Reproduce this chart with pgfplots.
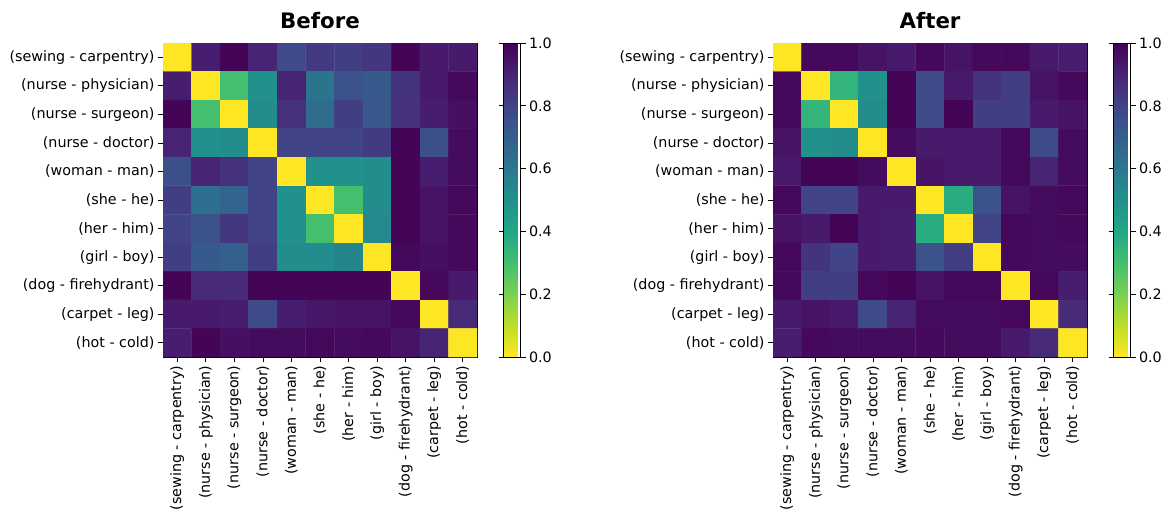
\documentclass[border=0pt]{standalone}
\usepackage{pgfplots}
\pgfplotsset{compat=1.18}
\usepackage{fontspec}
\setmainfont{DejaVu Sans}

\pgfplotsset{
  colormap={viridisr}{rgb255=(253,231,37) rgb255=(189,223,38) rgb255=(122,209,81) rgb255=(68,191,112) rgb255=(34,168,132) rgb255=(33,145,140) rgb255=(42,120,142) rgb255=(53,95,141) rgb255=(65,68,135) rgb255=(72,36,117) rgb255=(68,1,84)},
  hm/.style={
    scale only axis, width=314pt, height=314pt,
    xmin=-0.5, xmax=10.5, ymin=-0.5, ymax=10.5,
    y dir=reverse,
    enlargelimits=false,
    colormap name=viridisr,
    point meta min=0, point meta max=1,
    xtick={0,...,10}, ytick={0,...,10},
    xticklabels={(sewing - carpentry),(nurse - physician),(nurse - surgeon),(nurse - doctor),(woman - man),(she - he),(her - him),(girl - boy),(dog - firehydrant),(carpet - leg),(hot - cold)},
    yticklabels={(sewing - carpentry),(nurse - physician),(nurse - surgeon),(nurse - doctor),(woman - man),(she - he),(her - him),(girl - boy),(dog - firehydrant),(carpet - leg),(hot - cold)},
    xticklabel style={rotate=90, anchor=east, font=\fontsize{14.3}{15}\selectfont},
    yticklabel style={font=\fontsize{14.3}{15}\selectfont},
    tick align=outside, tick style={black, line width=0.7pt}, major tick length=5pt,
    xtick pos=left, ytick pos=left,
    axis line style={line width=0.8pt},
    title style={font=\bfseries\fontsize{21.3}{25}\selectfont, yshift=5pt},
    colorbar,
    colorbar style={
      at={(parent axis.north east)}, anchor=north west, xshift=18pt,
      width=17pt,
      ytick={0,0.2,...,1.0},
      yticklabel style={font=\fontsize{14.3}{15}\selectfont, /pgf/number format/.cd, fixed, fixed zerofill, precision=1, assume math mode=true},
      tick align=outside, major tick length=5pt, tick style={black, line width=0.7pt},
      axis line style={line width=0.6pt},
    },
  },
}

\begin{document}
\begin{tikzpicture}
\useasboundingbox (0,0) rectangle (1164pt,517pt);

\pgfplotstableread[row sep=\\]{
x y c\\
0 0 0\\ 1 0 .92\\ 2 0 .99\\ 3 0 .90\\ 4 0 .78\\ 5 0 .83\\ 6 0 .82\\ 7 0 .84\\ 8 0 .99\\ 9 0 .93\\ 10 0 .93\\
0 1 .92\\ 1 1 0\\ 2 1 .30\\ 3 1 .50\\ 4 1 .90\\ 5 1 .62\\ 6 1 .75\\ 7 1 .72\\ 8 1 .85\\ 9 1 .93\\ 10 1 .98\\
0 2 .99\\ 1 2 .30\\ 2 2 0\\ 3 2 .52\\ 4 2 .86\\ 5 2 .65\\ 6 2 .82\\ 7 2 .73\\ 8 2 .86\\ 9 2 .92\\ 10 2 .96\\
0 3 .90\\ 1 3 .50\\ 2 3 .52\\ 3 3 0\\ 4 3 .80\\ 5 3 .80\\ 6 3 .80\\ 7 3 .83\\ 8 3 .99\\ 9 3 .76\\ 10 3 .97\\
0 4 .76\\ 1 4 .90\\ 2 4 .86\\ 3 4 .80\\ 4 4 0\\ 5 4 .50\\ 6 4 .50\\ 7 4 .52\\ 8 4 .99\\ 9 4 .92\\ 10 4 .97\\
0 5 .82\\ 1 5 .64\\ 2 5 .68\\ 3 5 .80\\ 4 5 .50\\ 5 5 0\\ 6 5 .30\\ 7 5 .52\\ 8 5 .99\\ 9 5 .95\\ 10 5 .98\\
0 6 .80\\ 1 6 .75\\ 2 6 .84\\ 3 6 .80\\ 4 6 .50\\ 5 6 .30\\ 6 6 0\\ 7 6 .53\\ 8 6 .99\\ 9 6 .95\\ 10 6 .98\\
0 7 .82\\ 1 7 .72\\ 2 7 .70\\ 3 7 .82\\ 4 7 .52\\ 5 7 .52\\ 6 7 .55\\ 7 7 0\\ 8 7 .98\\ 9 7 .96\\ 10 7 .98\\
0 8 .99\\ 1 8 .88\\ 2 8 .88\\ 3 8 .99\\ 4 8 .99\\ 5 8 .99\\ 6 8 .99\\ 7 8 .99\\ 8 8 0\\ 9 8 .98\\ 10 8 .93\\
0 9 .93\\ 1 9 .93\\ 2 9 .92\\ 3 9 .78\\ 4 9 .92\\ 5 9 .94\\ 6 9 .95\\ 7 9 .95\\ 8 9 .98\\ 9 9 0\\ 10 9 .88\\
0 10 .92\\ 1 10 .99\\ 2 10 .96\\ 3 10 .97\\ 4 10 .97\\ 5 10 .98\\ 6 10 .97\\ 7 10 .98\\ 8 10 .95\\ 9 10 .90\\ 10 10 0\\
}\before

\pgfplotstableread[row sep=\\]{
x y c\\
0 0 0\\ 1 0 .98\\ 2 0 .98\\ 3 0 .95\\ 4 0 .93\\ 5 0 .98\\ 6 0 .95\\ 7 0 .98\\ 8 0 .98\\ 9 0 .93\\ 10 0 .92\\
0 1 .98\\ 1 1 0\\ 2 1 .35\\ 3 1 .50\\ 4 1 .99\\ 5 1 .78\\ 6 1 .93\\ 7 1 .85\\ 8 1 .82\\ 9 1 .95\\ 10 1 .98\\
0 2 .98\\ 1 2 .35\\ 2 2 0\\ 3 2 .52\\ 4 2 .99\\ 5 2 .78\\ 6 2 .99\\ 7 2 .82\\ 8 2 .82\\ 9 2 .93\\ 10 2 .95\\
0 3 .95\\ 1 3 .50\\ 2 3 .52\\ 3 3 0\\ 4 3 .97\\ 5 3 .93\\ 6 3 .93\\ 7 3 .93\\ 8 3 .98\\ 9 3 .78\\ 10 3 .97\\
0 4 .93\\ 1 4 .99\\ 2 4 .99\\ 3 4 .97\\ 4 4 0\\ 5 4 .95\\ 6 4 .93\\ 7 4 .93\\ 8 4 .98\\ 9 4 .90\\ 10 4 .97\\
0 5 .98\\ 1 5 .80\\ 2 5 .80\\ 3 5 .93\\ 4 5 .93\\ 5 5 0\\ 6 5 .38\\ 7 5 .75\\ 8 5 .95\\ 9 5 .97\\ 10 5 .98\\
0 6 .95\\ 1 6 .93\\ 2 6 .99\\ 3 6 .93\\ 4 6 .92\\ 5 6 .38\\ 6 6 0\\ 7 6 .80\\ 8 6 .98\\ 9 6 .97\\ 10 6 .98\\
0 7 .98\\ 1 7 .85\\ 2 7 .80\\ 3 7 .93\\ 4 7 .92\\ 5 7 .75\\ 6 7 .82\\ 7 7 0\\ 8 7 .98\\ 9 7 .97\\ 10 7 .97\\
0 8 .98\\ 1 8 .82\\ 2 8 .82\\ 3 8 .98\\ 4 8 .99\\ 5 8 .95\\ 6 8 .98\\ 7 8 .98\\ 8 8 0\\ 9 8 .98\\ 10 8 .92\\
0 9 .93\\ 1 9 .95\\ 2 9 .93\\ 3 9 .78\\ 4 9 .90\\ 5 9 .97\\ 6 9 .97\\ 7 9 .97\\ 8 9 .98\\ 9 9 0\\ 10 9 .88\\
0 10 .92\\ 1 10 .98\\ 2 10 .97\\ 3 10 .97\\ 4 10 .97\\ 5 10 .98\\ 6 10 .97\\ 7 10 .97\\ 8 10 .93\\ 9 10 .88\\ 10 10 0\\
}\after

\begin{axis}[hm, at={(163pt,160pt)}, anchor=south west, title={Before}]
\addplot[matrix plot*, mesh/cols=11, point meta=explicit] table[x=x, y=y, meta=c] {\before};
\end{axis}

\begin{axis}[hm, at={(773pt,160pt)}, anchor=south west, title={After}]
\addplot[matrix plot*, mesh/cols=11, point meta=explicit] table[x=x, y=y, meta=c] {\after};
\end{axis}
\end{tikzpicture}
\end{document}
